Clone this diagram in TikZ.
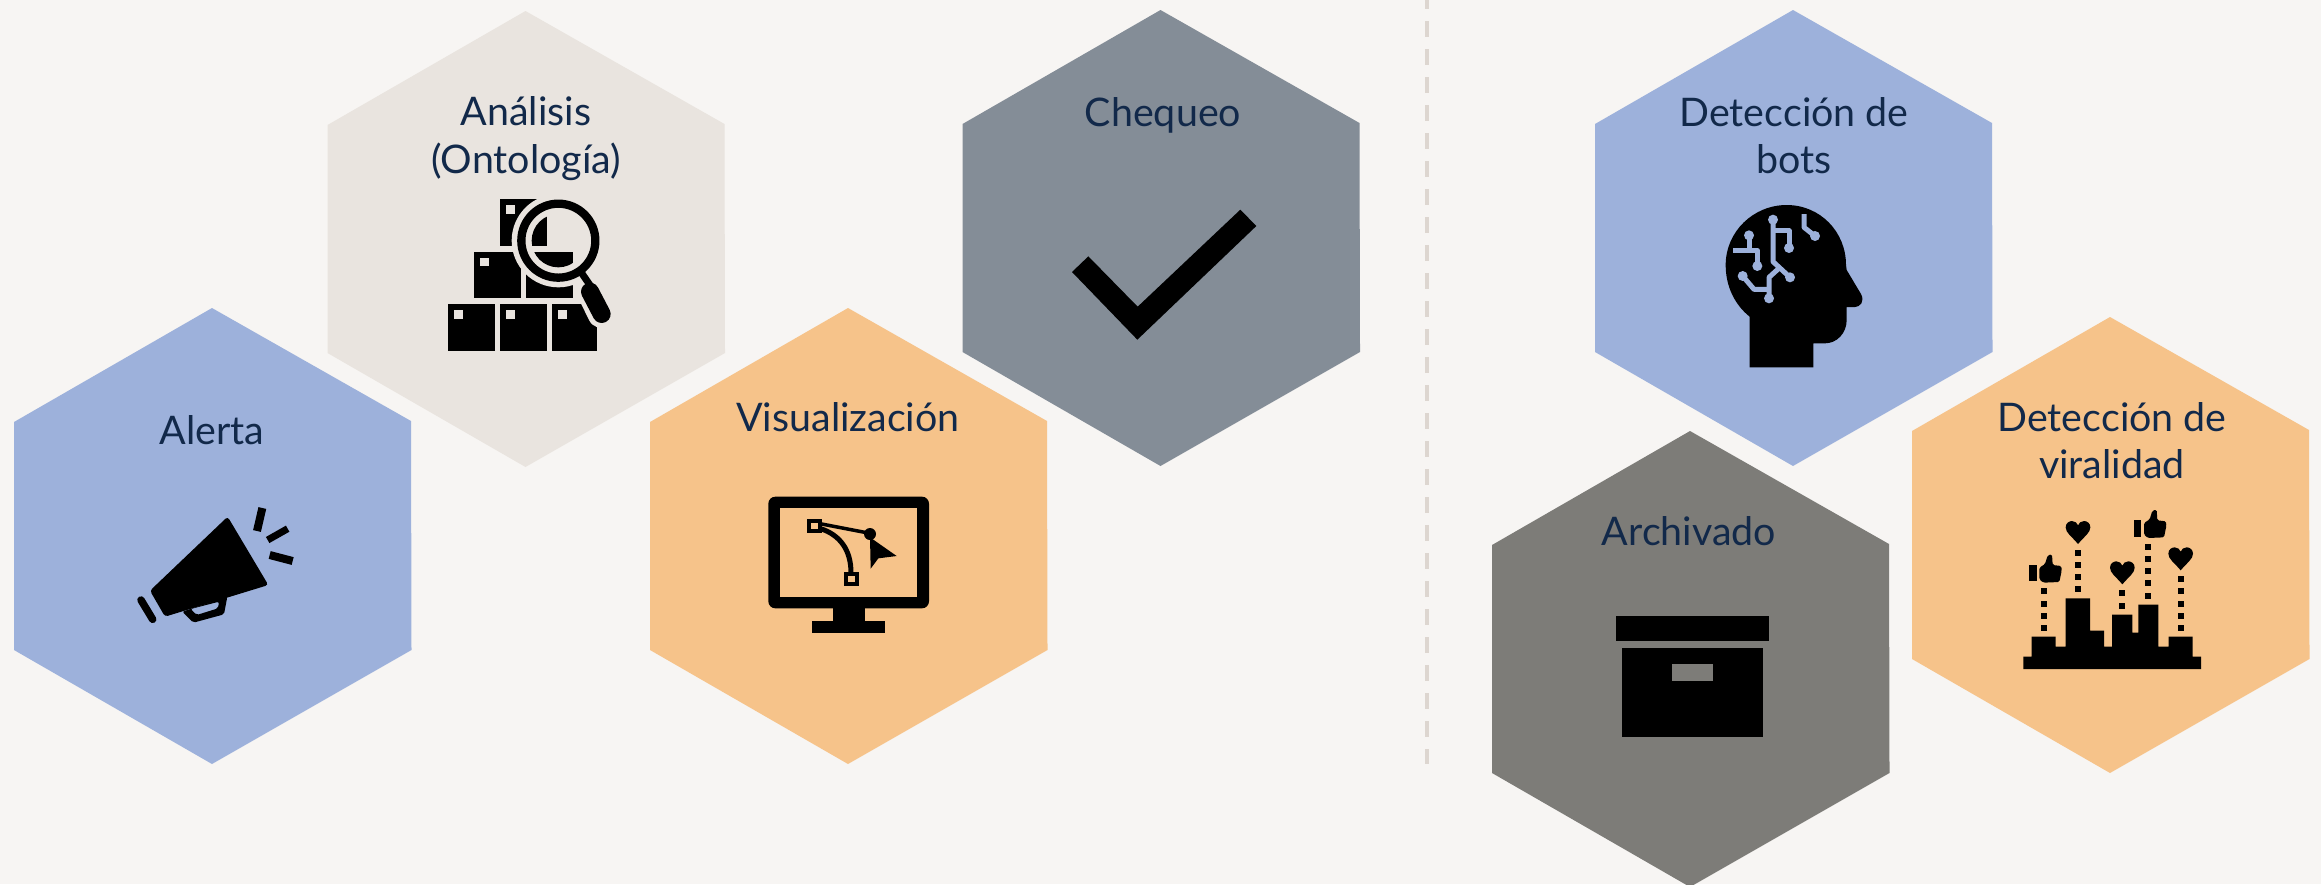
\documentclass[tikz,border=0pt]{standalone}
\usepackage{fontspec}
\setmainfont{Lato}
\definecolor{fondo}{HTML}{F7F5F3}
\definecolor{azul}{HTML}{9DB1DB}
\definecolor{beis}{HTML}{E9E4DF}
\definecolor{pizarra}{HTML}{848D97}
\definecolor{naranja}{HTML}{F6C38A}
\definecolor{gris}{HTML}{7D7C78}
\definecolor{tinta}{HTML}{12294A}
\definecolor{guion}{HTML}{DDD6D0}
\tikzset{
  hexa/.style={draw=none},
  rotulo/.style={anchor=base,inner sep=0pt,outer sep=0pt,text=tinta,font=\fontsize{11.2}{13}\selectfont},
  icono/.style={shift={#1},scale=0.33333},
  negro/.style={fill=black,draw=none},
  traza/.style={draw=azul,line width=0.05cm,line join=round},
  punto/.style={fill=azul,draw=none},
}
\newcommand{\hexagono}[3]{%
  \path[hexa,fill=#1,shift={(#2,#3)}] (0,0) -- (199,113) -- (199.5,342) -- (0,456) -- (-198,342) -- (-198,114) -- cycle;}
\newcommand{\cuadros}[2]{%
  \foreach \yy in {#2} {\fill[black] (#1-9,\yy-9) rectangle (#1+9,\yy+9);}}
\newcommand{\corazon}[2]{%
  \fill[black,shift={(#1,#2)}] (0,69) .. controls (-20,45) and (-37,35) .. (-37,19) .. controls (-37,5) and (-25,0) .. (-18,0) .. controls (-8,0) and (-3,6) .. (0,13) .. controls (3,6) and (8,0) .. (18,0) .. controls (25,0) and (37,5) .. (37,19) .. controls (37,35) and (20,45) .. (0,69) -- cycle;}
\newcommand{\pulgar}[2]{%
  \begin{scope}[shift={(#1,#2)}]
    \fill[black] (88,194) rectangle (110,244);
    \fill[black,rounded corners=0.015cm] (118,203) -- (135,192) -- (143,166) -- (156,163) -- (158,195) -- (184,198) -- (185,212) -- (178,246) -- (130,248) -- (118,238) -- cycle;
  \end{scope}}
\begin{document}
\begin{tikzpicture}[x=0.01cm,y=-0.01cm]
\useasboundingbox (0,0) rectangle (2321,884);
\clip (0,0) rectangle (2321,884);
\fill[fondo] (0,0) rectangle (2321,884);
\draw[guion,line width=0.04cm,dash pattern=on 0.16cm off 0.12cm] (1427,-7) -- (1427,764);

\hexagono{beis}{525.5}{11}
\hexagono{pizarra}{1160.5}{10}
\hexagono{azul}{212}{308}
\hexagono{naranja}{848}{308}
\hexagono{azul}{1793}{10}
\hexagono{gris}{1690}{431}
\hexagono{naranja}{2110}{317}

\node[rotulo] (alerta) at (212,444) {Alerta};
\node[rotulo] (analisis) at (526,125) {Análisis};
\node[rotulo] (ontologia) at (526,173) {(Ontología)};
\node[rotulo] (chequeo) at (1163,126) {Chequeo};
\node[rotulo] (visual) at (848,431) {Visualización};
\node[rotulo] (botsa) at (1794,126) {Detección de};
\node[rotulo] (botsb) at (1794,173) {bots};
\node[rotulo] (archivado) at (1689,545) {Archivado};
\node[rotulo] (virala) at (2112,431) {Detección de};
\node[rotulo] (viralb) at (2112,478) {viralidad};

% megáfono
\begin{scope}[icono={(125,500)}]
  \fill[black,rounded corners=0.03cm] (75,272) -- (308,50) -- (430,255) -- (120,350) -- cycle;
  \fill[black,even odd rule,rounded corners=0.02cm] (172,335) -- (205,368) -- (297,343) -- (307,290) -- cycle (197,327) -- (282,305) -- (279,325) -- (215,345) -- cycle;
  \draw[black,line width=0.075cm,line cap=round] (48,300) -- (83,358);
  \draw[black,line width=0.08cm] (412,24) -- (396,93);
  \draw[black,line width=0.07cm] (488,86) -- (428,120);
  \draw[black,line width=0.08cm] (434,165) -- (503,183);
\end{scope}

% cajas y lupa
\begin{scope}[icono={(420,180)}]
  \fill[black] (85,373) rectangle (224,512);
  \fill[black] (241,373) rectangle (380,512);
  \fill[black] (397,373) rectangle (530,512);
  \fill[black] (163,216) rectangle (302,355);
  \fill[black] (319,216) rectangle (458,355);
  \fill[black] (241,58) rectangle (380,198);
  \fill[beis] (103,391) rectangle (128,416);
  \fill[beis] (259,391) rectangle (284,416);
  \fill[beis] (415,391) rectangle (440,416);
  \fill[beis] (181,234) rectangle (206,259);
  \fill[beis] (259,76) rectangle (284,101);
  \fill[beis] (415,182) circle[radius=140];
  \draw[beis,line width=0.28cm,line cap=round] (510,330) -- (545,402);
  \begin{scope}
    \clip (415,182) circle[radius=80];
    \fill[black] (241,58) rectangle (380,198);
    \fill[black] (319,216) rectangle (458,355);
  \end{scope}
  \draw[black,line width=0.083cm] (415,182) circle[radius=111];
  \draw[black,line width=0.07cm] (480,272) -- (520,330);
  \draw[black,line width=0.18cm,line cap=round] (510,335) -- (545,402);
\end{scope}

% monitor
\begin{scope}[icono={(750,480)}]
  \fill[black,rounded corners=0.07cm] (55,50) rectangle (537,385);
  \fill[naranja] (91,85) rectangle (502,350);
  \fill[black] (248,385) rectangle (344,422);
  \fill[black] (187,422) rectangle (405,458);
  \draw[black,line width=0.035cm] (215,132) -- (360,160);
  \draw[black,line width=0.05cm] (212,146) .. controls (270,165) and (303,210) .. (303,278);
  \fill[black] (360,162) circle[radius=18];
  \fill[black] (360,172) -- (440,228) -- (385,235) -- (362,266) -- cycle;
  \draw[black,line width=0.04cm,fill=naranja] (176,122) rectangle (209,154);
  \draw[black,line width=0.04cm,fill=naranja] (288,281) rectangle (320,313);
\end{scope}

% marca de verificación
\begin{scope}[icono={(1040,190)}]
  \fill[black] (96,246) -- (145,199) -- (293,350) -- (601,59) -- (649,108) -- (292,449) -- cycle;
\end{scope}

% cabeza
\begin{scope}[icono={(1700,190)}]
  \fill[black] (149,532) -- (149,380) .. controls (105,345) and (77,290) .. (77,225) .. controls (77,125) and (160,45) .. (260,45) .. controls (360,45) and (438,125) .. (438,225) -- (440,240) -- (483,312) .. controls (495,335) and (480,351) .. (465,351) -- (440,351) -- (440,390) .. controls (440,430) and (410,460) .. (375,460) -- (340,460) -- (340,532) -- cycle;
  \draw[traza] (147,136) -- (147,182);
  \draw[traza] (100,182) -- (172,182) -- (172,228);
  \draw[traza] (219,89) -- (219,215) -- (270,262);
  \draw[traza] (219,122) -- (267,122) -- (267,174);
  \draw[traza] (128,258) -- (162,298) -- (207,298);
  \draw[traza] (207,325) -- (207,262) -- (240,232);
  \draw[traza] (312,72) -- (312,112) -- (345,138);
  \foreach \px/\py in {147/136,172/228,219/89,270/262,267/174,128/258,207/325,345/138}
    \fill[punto] (\px,\py) circle[radius=15];
\end{scope}

% caja de archivo
\begin{scope}[icono={(1580,590)}]
  \fill[black] (109,79) rectangle (566,152);
  \fill[black] (127,175) rectangle (548,440);
  \fill[gris] (277,223) rectangle (398,272);
\end{scope}

% viralidad
\begin{scope}[icono={(2000,500)}]
  \fill[black] (70,470) -- (95,470) -- (95,410) -- (167,410) -- (167,440) -- (197,440) -- (197,295) -- (270,295) -- (270,392) -- (312,392) -- (312,440) -- (336,440) -- (336,344) -- (397,344) -- (397,398) -- (415,398) -- (415,314) -- (475,314) -- (475,440) -- (506,440) -- (506,410) -- (578,410) -- (578,470) -- (603,470) -- (603,507) -- (70,507) -- cycle;
  \cuadros{131}{274,311,347,383}
  \cuadros{234}{160,196,232,268}
  \cuadros{367}{280,317}
  \cuadros{445}{141,177,214,250,287}
  \cuadros{542}{238,274,311,347,383}
  \corazon{234}{63}
  \corazon{367}{184}
  \corazon{542}{142}
  \pulgar{0}{0}
  \pulgar{314}{-134}
\end{scope}
\end{tikzpicture}
\end{document}
